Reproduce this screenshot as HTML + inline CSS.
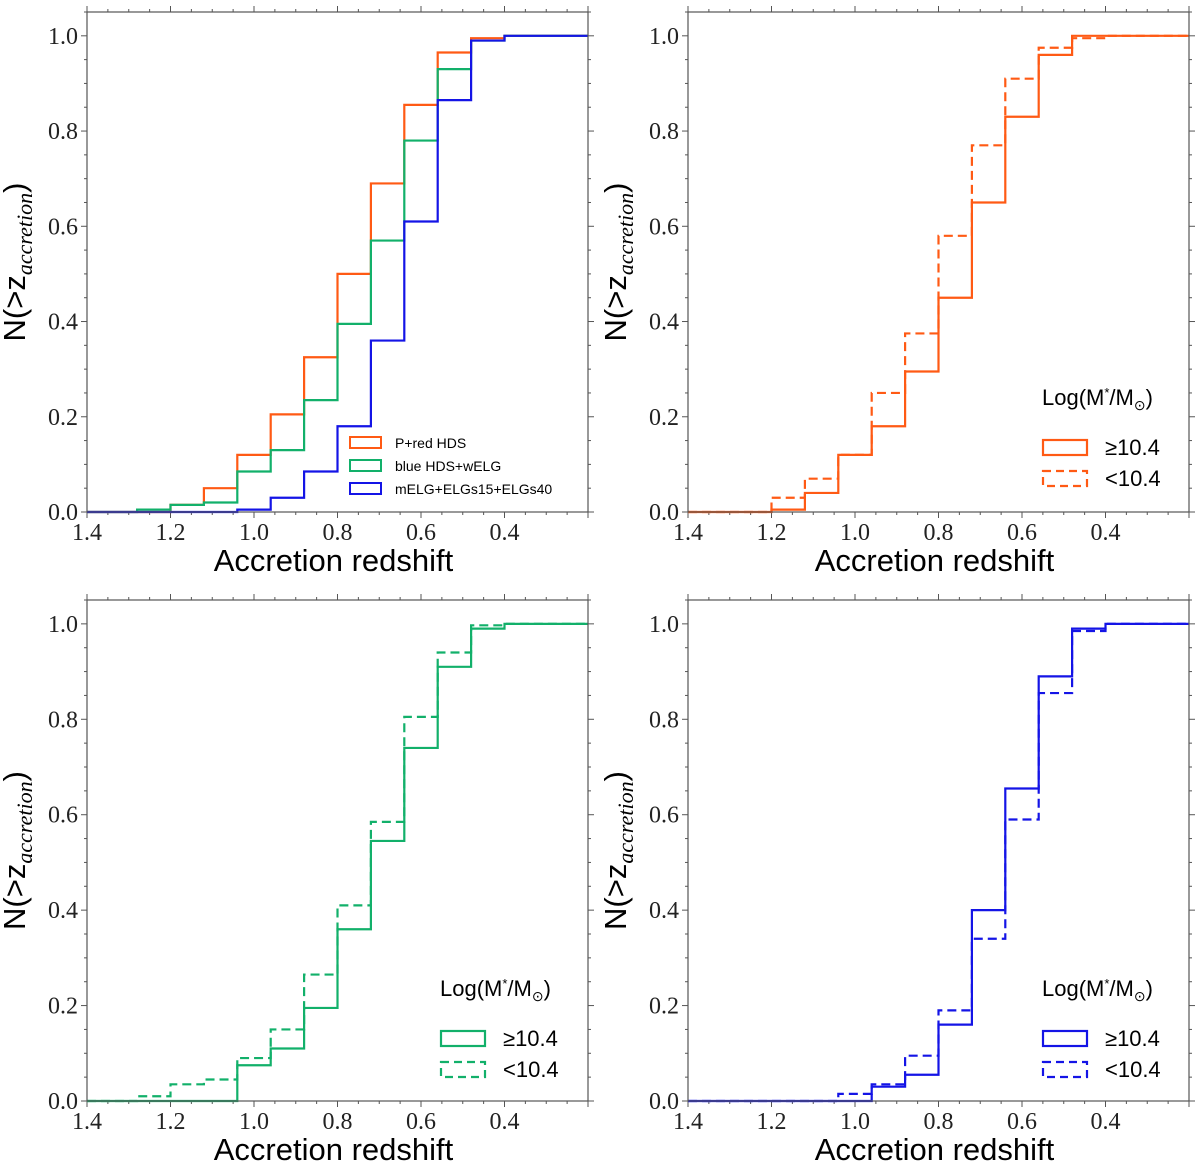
<!DOCTYPE html>
<html><head><meta charset="utf-8">
<style>
body{margin:0;background:#fff;}
svg{display:block;}
.tick{font-family:"Liberation Serif","DejaVu Serif",serif;font-size:24px;fill:#222;}
.lab{font-family:"Liberation Sans",sans-serif;font-size:31px;fill:#000;}
.leg{font-family:"Liberation Sans",sans-serif;font-size:14px;fill:#000;}
.leg2{font-family:"Liberation Sans",sans-serif;font-size:22px;fill:#000;}
</style></head>
<body>
<svg id="fig" width="1200" height="1175" viewBox="0 0 1200 1175"></svg>
<script>
const edges=[1.28,1.2,1.12,1.04,0.96,0.88,0.8,0.72,0.64,0.56,0.48,0.40];
const xTicks=[1.4,1.2,1.0,0.8,0.6,0.4];
const xTickLabels=["1.4","1.2","1.0","0.8","0.6","0.4"];
const yTicks=[0,0.2,0.4,0.6,0.8,1.0];
const yTickLabels=["0.0","0.2","0.4","0.6","0.8","1.0"];
// values after each edge (same order as edges)
const pRedHDS=[0,0.015,0.05,0.12,0.205,0.325,0.5,0.69,0.855,0.965,0.995,1.0];
const blueHDS=[0.005,0.015,0.02,0.085,0.13,0.235,0.395,0.57,0.78,0.93,0.99,1.0];
const mELG=[0,0,0,0.005,0.03,0.085,0.18,0.36,0.61,0.865,0.99,1.0];
const redHi=[0,0.005,0.04,0.12,0.18,0.295,0.45,0.65,0.83,0.96,1.0,1.0];
const redLo=[0,0.03,0.07,0.12,0.25,0.375,0.58,0.77,0.91,0.975,0.995,1.0];
const greenHi=[0,0,0,0.075,0.11,0.195,0.36,0.545,0.74,0.91,0.99,1.0];
const greenLo=[0.01,0.035,0.045,0.09,0.15,0.265,0.41,0.585,0.805,0.94,0.997,1.0];
const blueHi=[0,0,0,0,0.03,0.055,0.16,0.4,0.655,0.89,0.99,1.0];
const blueLo=[0,0,0,0.015,0.035,0.095,0.19,0.34,0.59,0.855,0.985,1.0];

const NS="http://www.w3.org/2000/svg";
const svg=document.getElementById('fig');
function mk(tag,attrs,parent){const e=document.createElementNS(NS,tag);for(const k in attrs)e.setAttribute(k,attrs[k]);(parent||svg).appendChild(e);return e;}

const ORANGE="#ff5a14",GREEN="#12b06a",BLUE="#1414e6";
const panels=[
 {id:"top-left",x0:87,x1:588,yTop:12,y0:512},
 {id:"top-right",x0:688,x1:1189,yTop:12,y0:512},
 {id:"bottom-left",x0:87,x1:588,yTop:600,y0:1101},
 {id:"bottom-right",x0:688,x1:1189,yTop:600,y0:1101}
];
function axes(p){
 const g=mk('g',{});
 
 
 const sx=z=>p.x0+(1.4-z)/1.2*(p.x1-p.x0);
 const sy=v=>p.y0-v*(p.y0-p.yTop)/1.05;
 p.sx=sx;p.sy=sy;p.g=g;
 for(let i=0;i<=24;i++){const z=1.4-i*0.05;const X=sx(z);const major=(i%4===0);const L=major?6:3;
  mk('line',{x1:X,x2:X,y1:p.y0,y2:p.y0+L,stroke:'#555','stroke-width':1},g);
  mk('line',{x1:X,x2:X,y1:p.yTop,y2:p.yTop-L,stroke:'#555','stroke-width':1},g);}
 for(let i=0;i<=21;i++){const v=i*0.05;const Y=sy(v);const major=(i%4===0);const L=major?6:3;
  mk('line',{x1:p.x0,x2:p.x0-L,y1:Y,y2:Y,stroke:'#555','stroke-width':1},g);
  mk('line',{x1:p.x1,x2:p.x1+L,y1:Y,y2:Y,stroke:'#555','stroke-width':1},g);}
 xTicks.forEach((z,i)=>{const t=mk('text',{x:sx(z),y:p.y0+28,'text-anchor':'middle',class:'tick'},g);t.textContent=xTickLabels[i];
  });
 yTicks.forEach((v,i)=>{const t=mk('text',{x:p.x0-9,y:sy(v)+8,'text-anchor':'end',class:'tick'},g);t.textContent=yTickLabels[i];
  });
 const xl=mk('text',{x:(p.x0+p.x1)/2-4,y:p.y0+59,'text-anchor':'middle',class:'lab'},g);xl.textContent="Accretion redshift";
 
 const cy=(p.y0+p.yTop)/2;
 const yl=mk('text',{x:0,y:0,transform:`translate(${p.x0-62},${cy}) rotate(-90)`,'text-anchor':'middle',class:'lab'},g);
 yl.innerHTML='N(&gt;z<tspan font-family="Liberation Serif, serif" font-style="italic" font-size="22" dy="7">accretion</tspan><tspan dy="-7">)</tspan>';
 
}
function hist(p,vals,color,dash,name){
 const {sx,sy}=p;
 let d=`M${sx(1.4)},${sy(0)}`;
 let prev=0;
 edges.forEach((e,i)=>{d+=` L${sx(e)},${sy(prev)} L${sx(e)},${sy(vals[i])}`;prev=vals[i];});
 d+=` L${sx(0.2)},${sy(prev)}`;
 const path=mk('path',{d:d,fill:'none',stroke:color,'stroke-width':2.2,'stroke-dasharray':dash?'9,5':'none'},p.g);
 
 
}
function frame(p){mk('rect',{x:p.x0,y:p.yTop,width:p.x1-p.x0,height:p.y0-p.yTop,fill:'none',stroke:'#555','stroke-width':1.2},p.g);}
panels.forEach(axes);
hist(panels[0],pRedHDS,ORANGE,false,'series-p-red-hds');
hist(panels[0],blueHDS,GREEN,false,'series-blue-hds-welg');
hist(panels[0],mELG,BLUE,false,'series-melg-elgs');
hist(panels[1],redLo,ORANGE,true,'series-red-low-mass');
hist(panels[1],redHi,ORANGE,false,'series-red-high-mass');
hist(panels[2],greenLo,GREEN,true,'series-green-low-mass');
hist(panels[2],greenHi,GREEN,false,'series-green-high-mass');
hist(panels[3],blueLo,BLUE,true,'series-blue-low-mass');
hist(panels[3],blueHi,BLUE,false,'series-blue-high-mass');
panels.forEach(frame);

const lg=mk('g',{});


[["P+red HDS",ORANGE,443],["blue HDS+wELG",GREEN,466],["mELG+ELGs15+ELGs40",BLUE,489]].forEach(r=>{
 const b=mk('rect',{x:350,y:r[2]-6,width:31,height:11,fill:'none',stroke:r[1],'stroke-width':2},lg);
 
 const t=mk('text',{x:395,y:r[2]+5,class:'leg'},lg);t.textContent=r[0];
 
});
function massLegend(tx,ty,color){
 const g=mk('g',{});
 
 
 const t=mk('text',{x:tx,y:ty,class:'leg2'},g);
 t.innerHTML='Log(M<tspan font-size="13" dy="-8">*</tspan><tspan dy="8">/M</tspan><tspan font-size="14" dy="5">⊙</tspan><tspan dy="-5">)</tspan>';
 const b1=mk('rect',{x:tx+1,y:ty+35,width:44,height:15,fill:'none',stroke:color,'stroke-width':2.2},g);
 
 const l1=mk('text',{x:tx+63,y:ty+50,class:'leg2'},g);l1.textContent='≥10.4';
 
 const b2=mk('rect',{x:tx+1,y:ty+66,width:44,height:15,fill:'none',stroke:color,'stroke-width':2.2,'stroke-dasharray':'8,5'},g);
 
 const l2=mk('text',{x:tx+63,y:ty+81,class:'leg2'},g);l2.textContent='<10.4';
 
}
massLegend(1042,405,ORANGE);
massLegend(440,996,GREEN);
massLegend(1042,996,BLUE);
</script>
</body></html>
